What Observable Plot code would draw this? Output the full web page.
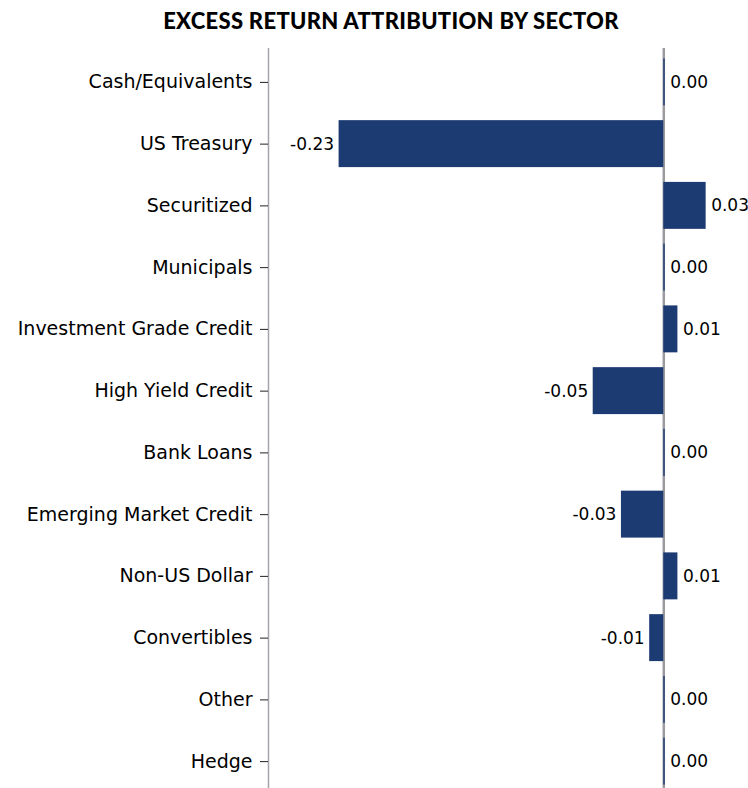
<!DOCTYPE html>
<html>
<head>
<meta charset="utf-8">
<script src="https://cdn.jsdelivr.net/npm/d3@7"></script>
<script src="https://cdn.jsdelivr.net/npm/@observablehq/plot@0.6"></script>
<style>
  html, body { margin: 0; padding: 0; background: #fff; overflow: hidden; }
  #title { height: 40px; width: 748px; position: relative; font-family: "Lato", sans-serif; font-weight: 900; font-size: 22px; color: #000; }
  #title span { position: absolute; left: 391px; top: 7px; transform: translateX(-50%); white-space: nowrap; letter-spacing: 0.3px; }
  #chart svg { display: block; }
</style>
</head>
<body>
<div id="title"><span>EXCESS RETURN ATTRIBUTION BY SECTOR</span></div>
<div id="chart"></div>
<script>
const sectors = ["Cash/Equivalents", "US Treasury", "Securitized", "Municipals", "Investment Grade Credit", "High Yield Credit", "Bank Loans", "Emerging Market Credit", "Non-US Dollar", "Convertibles", "Other", "Hedge"];
const values = [0.001, -0.23, 0.03, 0.001, 0.01, -0.05, 0.001, -0.03, 0.01, -0.01, 0.001, 0.001];
const valueLabels = ["0.00", "-0.23", "0.03", "0.00", "0.01", "-0.05", "0.00", "-0.03", "0.01", "-0.01", "0.00", "0.00"];

const data = sectors.map((s, i) => ({sector: s, value: values[i], label: valueLabels[i]}));
const font = "'DejaVu Sans', sans-serif";

const chart = Plot.plot({
  width: 748,
  height: 752,
  marginTop: 11,
  marginBottom: 0,
  marginLeft: 268,
  marginRight: 0,
  style: {fontFamily: font, background: "#fff"},
  x: {domain: [-0.28, 0.06], axis: null},
  y: {domain: sectors, padding: 0, round: false, label: null},
  marks: [
    Plot.ruleX([-0.28], {stroke: "#a3a3ae", strokeWidth: 1.5, insetTop: -3, insetBottom: -10}),
    Plot.ruleX([0], {stroke: "#9b9b9f", strokeWidth: 2.5, insetTop: -3, insetBottom: -10}),
    Plot.barX(data, {x: "value", y: "sector", fill: "#1c3b73", insetTop: 7.4, insetBottom: 7.4}),
    Plot.text(data.filter(d => d.value >= 0), {x: "value", y: "sector", text: "label", textAnchor: "start", dx: 5, fontSize: 17, fill: "#000"}),
    Plot.text(data.filter(d => d.value < 0), {x: "value", y: "sector", text: "label", textAnchor: "end", dx: -5, fontSize: 17, fill: "#000"}),
    Plot.axisY({tickSize: 8, tickPadding: 8, fontSize: 19, stroke: "#222", color: "#000", label: null})
  ]
});
document.getElementById("chart").appendChild(chart);
</script>
</body>
</html>
